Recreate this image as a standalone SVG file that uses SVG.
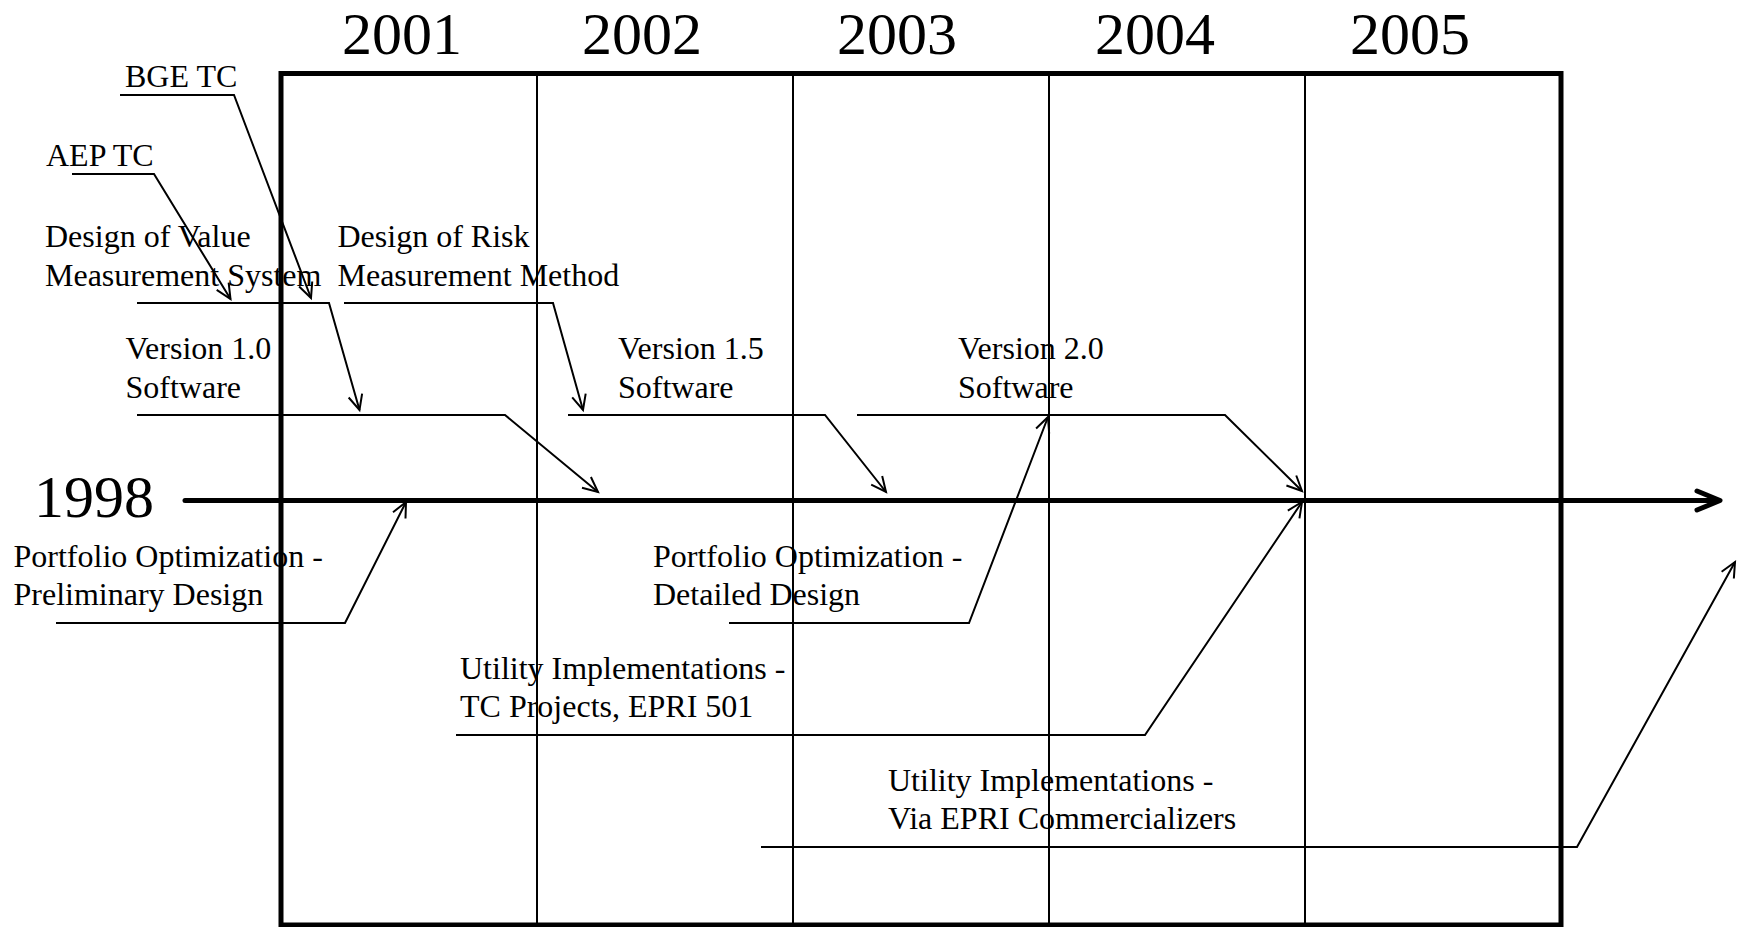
<svg xmlns="http://www.w3.org/2000/svg" width="1744" height="927" viewBox="0 0 1744 927">
  <style>
    .year { font-family: "Liberation Serif", "Times New Roman", serif; font-size: 60px; fill: #000; }
    .lbl { font-family: "Liberation Serif", "Times New Roman", serif; font-size: 32px; fill: #000; }
    .frame { fill: none; stroke: #000; stroke-width: 5; }
    .grid { fill: none; stroke: #000; stroke-width: 2; }
    .axis { fill: none; stroke: #000; stroke-width: 5; stroke-linecap: round; stroke-linejoin: round; }
    .conn { fill: none; stroke: #000; stroke-width: 2; stroke-linejoin: miter; marker-end: url(#arrow); }
  </style>
  <defs>
    <marker id="arrow" markerUnits="userSpaceOnUse" orient="auto" refX="0" refY="0" markerWidth="1" markerHeight="1" overflow="visible">
      <path d="M-15,-7 L0,0 L-15,7" fill="none" stroke="#000" stroke-width="2"/>
    </marker>
  </defs>
  <rect width="1744" height="927" fill="#fff"/>

  <!-- year grid -->
  <g id="grid">
    <rect class="frame" x="281" y="73.5" width="1280" height="851.5"/>
    <line class="grid" x1="537" y1="73.5" x2="537" y2="925"/>
    <line class="grid" x1="793" y1="73.5" x2="793" y2="925"/>
    <line class="grid" x1="1049" y1="73.5" x2="1049" y2="925"/>
    <line class="grid" x1="1305" y1="73.5" x2="1305" y2="925"/>
  </g>

  <g id="years">
    <text class="year" x="342" y="54">2001</text>
    <text class="year" x="582" y="54">2002</text>
    <text class="year" x="837" y="54">2003</text>
    <text class="year" x="1095" y="54">2004</text>
    <text class="year" x="1350" y="54">2005</text>
  </g>

  <!-- time axis -->
  <g id="axis">
    <text class="year" x="34" y="517">1998</text>
    <line class="axis" x1="185" y1="500.5" x2="1718" y2="500.5"/>
    <polyline class="axis" points="1697,491 1720,500.5 1697,510"/>
  </g>

  <!-- milestone connectors -->
  <g id="connectors">
    <polyline class="conn" points="120,95 234,95 311,298"/>
    <polyline class="conn" points="72,174 154,174 230.5,299"/>
    <polyline class="conn" points="137,303 329,303 359.5,410"/>
    <polyline class="conn" points="344,303 553,303 583,410"/>
    <polyline class="conn" points="137,415 505,415 598,492"/>
    <polyline class="conn" points="568,415 825,415 886,492"/>
    <polyline class="conn" points="857,415 1225,415 1302,491"/>
    <polyline class="conn" points="56,623 345,623 406,502"/>
    <polyline class="conn" points="729,623 969,623 1048,417"/>
    <polyline class="conn" points="456,735 1145,735 1302,502"/>
    <polyline class="conn" points="761,847 1577,847 1735,562"/>
  </g>

  <!-- milestone labels -->
  <g id="bge-tc"><text class="lbl" x="125" y="87">BGE TC</text></g>
  <g id="aep-tc"><text class="lbl" x="46" y="166">AEP TC</text></g>
  <g id="value-design">
    <text class="lbl" x="45" y="247">Design of Value</text>
    <text class="lbl" x="45" y="286">Measurement System</text>
  </g>
  <g id="risk-design">
    <text class="lbl" x="337.5" y="247">Design of Risk</text>
    <text class="lbl" x="337.5" y="286">Measurement Method</text>
  </g>
  <g id="version-10">
    <text class="lbl" x="125.5" y="359">Version 1.0</text>
    <text class="lbl" x="125.5" y="398">Software</text>
  </g>
  <g id="version-15">
    <text class="lbl" x="618" y="359">Version 1.5</text>
    <text class="lbl" x="618" y="398">Software</text>
  </g>
  <g id="version-20">
    <text class="lbl" x="958" y="359">Version 2.0</text>
    <text class="lbl" x="958" y="398">Software</text>
  </g>
  <g id="portfolio-prelim">
    <text class="lbl" x="13.5" y="567">Portfolio Optimization -</text>
    <text class="lbl" x="13.5" y="605">Preliminary Design</text>
  </g>
  <g id="portfolio-detailed">
    <text class="lbl" x="653" y="567">Portfolio Optimization -</text>
    <text class="lbl" x="653" y="605">Detailed Design</text>
  </g>
  <g id="utility-tc">
    <text class="lbl" x="460" y="679">Utility Implementations -</text>
    <text class="lbl" x="460" y="717">TC Projects, EPRI 501</text>
  </g>
  <g id="utility-commercial">
    <text class="lbl" x="888" y="791">Utility Implementations -</text>
    <text class="lbl" x="888" y="829">Via EPRI Commercializers</text>
  </g>
</svg>
